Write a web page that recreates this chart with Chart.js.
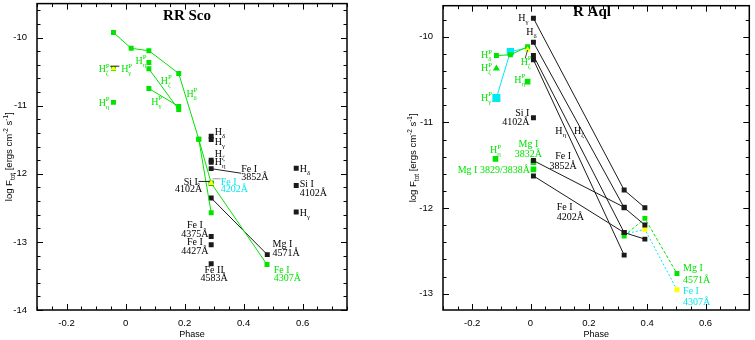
<!DOCTYPE html>
<html>
<head>
<meta charset="utf-8">
<script src="https://cdn.jsdelivr.net/npm/chart.js@4.4.0/dist/chart.umd.min.js"></script>
<style>
  body { margin: 0; background: #fff; width: 755px; height: 340px; position: relative; overflow: hidden; }
  canvas { position: absolute; top: 0; }
</style>
</head>
<body>
<canvas id="rrsco" width="380" height="340" style="left:0"></canvas>
<canvas id="raql" width="375" height="340" style="left:380px"></canvas>
<script>
// ---- axes ----
const phaseTicks = [-0.2, 0, 0.2, 0.4, 0.6];
const phaseTickLabels = ['-0.2', '0', '0.2', '0.4', '0.6'];
const rrLogTicks = [-14, -13, -12, -11, -10];
const rrLogTickLabels = ['-14', '-13', '-12', '-11', '-10'];
const aqlLogTicks = [-13, -12, -11, -10];
const aqlLogTickLabels = ['-13', '-12', '-11', '-10'];

// ---- RR Sco: [phase, log F] ----
const rrHdP = [[-0.041, -9.925], [0.019, -10.157], [0.079, -10.192], [0.18, -10.526], [0.248, -11.493], [0.29, -12.573]];
const rrFeI4307 = [[0.248, -11.493], [0.29, -12.137], [0.479, -13.332]];
const rrHzP = [[0.079, -10.458], [0.18, -11.057]];
const rrHgP = [[0.079, -10.748], [0.18, -11.01]];
const rrGreenPts = [[-0.041, -10.454], [-0.041, -10.951], [0.079, -10.366]];
const rrYellowTri = [[-0.041, -10.454], [0.29, -12.137]];
const rrMgI4571 = [[0.29, -12.355], [0.48, -13.187]];
const rrBlackPts = [[0.29, -11.448], [0.29, -11.496], [0.29, -11.80], [0.29, -11.83], [0.29, -11.924], [0.29, -12.137],
  [0.29, -12.921], [0.29, -13.041], [0.29, -13.322], [0.578, -11.919], [0.578, -12.171], [0.578, -12.562]];

// ---- R Aql ----
const aqlHg = [[0.01, -9.782], [0.321, -11.789], [0.392, -11.995]];
const aqlHd = [[0.01, -10.064], [0.321, -11.995], [0.392, -12.197]];
const aqlHz = [[0.01, -10.218], [0.321, -12.286], [0.392, -12.362]];
const aqlHe = [[0.01, -10.267], [0.321, -12.549]];
const aqlFe3852 = [[0.01, -11.445], [0.321, -11.99]];
const aqlFe4202 = [[0.01, -11.624], [0.321, -12.286]];
const aqlSiI = [[0.01, -10.944]];
const aqlHdP = [[-0.117, -10.218], [-0.069, -10.21], [-0.01, -10.115]];
const aqlHgP = [[-0.117, -10.714], [-0.069, -10.172], [-0.01, -10.13]];
const aqlGreenPts = [[-0.01, -10.523], [-0.12, -11.425], [0.01, -11.463], [0.01, -11.548]];
const aqlGreenTri = [[-0.117, -10.37]];
const aqlYellowTri = [[-0.01, -10.153]];
const aqlMgI4571 = [[0.321, -12.325], [0.392, -12.12], [0.502, -12.764]];
const aqlFeI4307 = [[0.321, -12.305], [0.392, -12.248], [0.502, -12.954]];

// ---- line identifications: [text, phase, log F, align] ----
const rrBlackLabels = [
  ['H_δ', 0.302, -11.38, 'left'], ['H_γ', 0.302, -11.52, 'left'],
  ['H_ζ', 0.302, -11.70, 'left'], ['H_η', 0.302, -11.82, 'left'],
  ['Fe I', 0.392, -11.92, 'left'], ['3852Å', 0.392, -12.04, 'left'],
  ['Si I', 0.245, -12.11, 'right'], ['4102Å', 0.26, -12.22, 'right'],
  ['Fe I', 0.235, -12.75, 'center'], ['4375Å', 0.235, -12.88, 'center'],
  ['Fe I', 0.235, -13.0, 'center'], ['4427Å', 0.235, -13.12, 'center'],
  ['Fe II', 0.30, -13.41, 'center'], ['4583Å', 0.30, -13.53, 'center'],
  ['Mg I', 0.498, -13.03, 'left'], ['4571Å', 0.498, -13.15, 'left'],
  ['H_δ', 0.59, -11.92, 'left'], ['Si I', 0.59, -12.14, 'left'], ['4102Å', 0.59, -12.27, 'left'],
  ['H_γ', 0.59, -12.57, 'left']
];
const rrGreenLabels = [
  ['H_ζ^P', -0.054, -10.46, 'right'], ['H_γ^P', -0.015, -10.46, 'left'],
  ['H_η^P', 0.071, -10.33, 'right'], ['H_ζ^P', 0.119, -10.625, 'left'],
  ['H_γ^P', 0.087, -10.937, 'left'], ['H_η^P', -0.054, -10.951, 'right'],
  ['H_δ^P', 0.206, -10.813, 'left'],
  ['Fe I', 0.502, -13.41, 'left'], ['4307Å', 0.502, -13.53, 'left']
];
const rrCyanLabels = [['Fe I', 0.322, -12.11, 'left'], ['4202Å', 0.322, -12.22, 'left']];

const aqlBlackLabels = [
  ['H_γ', -0.007, -9.771, 'right'], ['H_δ', 0.003, -9.943, 'center'],
  ['Si I', -0.004, -10.878, 'right'], ['4102Å', -0.004, -10.993, 'right'],
  ['H_η', 0.085, -11.09, 'left'], ['H_ζ', 0.149, -11.09, 'left'],
  ['Fe I', 0.112, -11.388, 'center'], ['3852Å', 0.112, -11.502, 'center'],
  ['Fe I', 0.09, -11.987, 'left'], ['4202Å', 0.09, -12.102, 'left']
];
const aqlGreenLabels = [
  ['H_δ^P', -0.132, -10.21, 'right'], ['H_ζ^P', -0.132, -10.362, 'right'], ['H_γ^P', -0.132, -10.706, 'right'],
  ['H_ζ^P', -0.015, -10.287, 'center'], ['H_η^P', -0.018, -10.497, 'right'],
  ['H_η^P', -0.12, -11.319, 'center'],
  ['Mg I', -0.007, -11.242, 'center'], ['3832Å', -0.007, -11.357, 'center'],
  ['Mg I 3829/3838Å', -0.002, -11.548, 'right'],
  ['Mg I', 0.523, -12.695, 'left'], ['4571Å', 0.523, -12.828, 'left']
];
const aqlCyanLabels = [['Fe I', 0.523, -12.962, 'left'], ['4307Å', 0.523, -13.096, 'left']];

// leader lines from a point to its label
const rrLeaders = [
  [[0.29, -11.924], [0.392, -11.992], '#222'],
  [[0.247, -12.112], [0.285, -12.112], '#222'],
  [[-0.052, -10.419], [-0.021, -10.419], '#222'],
  [[0.295, -12.073], [0.322, -12.073], '#999']
];
const aqlLeaders = [[[-0.01, -10.153], [-0.018, -10.249], '#444']];

const GREEN = '#00e400', CYAN = '#00e8f0', YELLOW = '#ffff00', INK = '#1a1a1a';
const SERIF = '"Liberation Serif", "DejaVu Serif", serif';
const SANS = '"Liberation Sans", Arial, sans-serif';

function series(data, color, extra) {
  return Object.assign({
    data, showLine: false, borderColor: color, borderWidth: 1,
    pointStyle: 'rect', pointRadius: 3.5, pointHoverRadius: 3.5,
    pointBackgroundColor: color, pointBorderWidth: 0
  }, extra || {});
}

// tiny markup: _x subscript, ^x superscript, {..} groups
function parseRich(str) {
  const parts = [];
  let i = 0;
  while (i < str.length) {
    const c = str[i];
    if (c === '_' || c === '^') {
      const kind = c === '_' ? -1 : 1;
      i++;
      let t;
      if (str[i] === '{') { const j = str.indexOf('}', i); t = str.slice(i + 1, j); i = j + 1; }
      else { t = str[i]; i++; }
      parts.push({ t, kind });
    } else {
      let j = i;
      while (j < str.length && str[j] !== '_' && str[j] !== '^') j++;
      parts.push({ t: str.slice(i, j), kind: 0 });
      i = j;
    }
  }
  return parts;
}

function drawRich(ctx, str, x, y, size, family, align, weight) {
  const sm = size * 0.68;
  const items = [];
  let cx = 0, prev = null;
  for (const p of parseRich(str)) {
    const fs = p.kind ? sm : size;
    ctx.font = `${weight || 'normal'} ${fs}px ${family}`;
    const w = ctx.measureText(p.t).width;
    let it;
    if (prev && prev.kind && p.kind && prev.kind !== p.kind) {
      it = { ...p, x: prev.x, fs };
      cx = Math.max(cx, prev.x + w);
    } else {
      it = { ...p, x: cx, fs };
      cx += w;
    }
    items.push(it);
    prev = it;
  }
  const x0 = align === 'right' ? x - cx : align === 'center' ? x - cx / 2 : x;
  const base = y + size * 0.35;
  ctx.textAlign = 'left';
  ctx.textBaseline = 'alphabetic';
  for (const it of items) {
    ctx.font = `${weight || 'normal'} ${it.fs}px ${family}`;
    const dy = it.kind === -1 ? size * 0.3 : it.kind === 1 ? -size * 0.45 : 0;
    ctx.fillText(it.t, x0 + it.x, base + dy);
  }
}

function tickMarks(ctx, scale, a, step, major, horizontal) {
  const start = Math.ceil(scale.min / step - 1e-6), end = Math.floor(scale.max / step + 1e-6);
  for (let i = start; i <= end; i++) {
    const v = i * step;
    const isMajor = Math.abs(v / major - Math.round(v / major)) < 1e-6;
    const len = isMajor ? 6 : 3.5;
    const p = Math.round(scale.getPixelForValue(v)) + 0.5;
    if (horizontal) {
      ctx.moveTo(p, a.bottom); ctx.lineTo(p, a.bottom - len);
      ctx.moveTo(p, a.top); ctx.lineTo(p, a.top + len);
    } else {
      ctx.moveTo(a.left, p); ctx.lineTo(a.left + len, p);
      ctx.moveTo(a.right, p); ctx.lineTo(a.right - len, p);
    }
  }
}

function makeDecor(cfg) {
  return {
    id: 'decor',
    afterDraw(chart) {
      const { ctx, chartArea: a } = chart;
      const xs = chart.scales.x, ys = chart.scales.y;
      const px = v => xs.getPixelForValue(v), py = v => ys.getPixelForValue(v);
      ctx.save();
      ctx.lineWidth = 1;
      for (const [p, q, col] of cfg.leaders) {
        ctx.strokeStyle = col;
        ctx.beginPath();
        ctx.moveTo(px(p[0]), py(p[1]));
        ctx.lineTo(px(q[0]), py(q[1]));
        ctx.stroke();
      }
      for (const [list, col] of cfg.labels) {
        ctx.fillStyle = col;
        for (const [t, x, y, al] of list) drawRich(ctx, t, px(x), py(y), 10, SERIF, al);
      }
      // frame + inward ticks on all four sides
      ctx.strokeStyle = '#000';
      ctx.lineWidth = 1.5;
      ctx.strokeRect(a.left, a.top, a.right - a.left, a.bottom - a.top);
      ctx.lineWidth = 1;
      ctx.beginPath();
      tickMarks(ctx, xs, a, 0.05, 0.2, true);
      tickMarks(ctx, ys, a, 0.2, 1, false);
      ctx.stroke();
      // panel title
      ctx.fillStyle = '#000';
      drawRich(ctx, cfg.title, cfg.titleX, cfg.titleY, 15, SERIF, 'center', 'bold');
      // y axis title
      ctx.translate(cfg.yTitleX, (a.top + a.bottom) / 2);
      ctx.rotate(-Math.PI / 2);
      drawRich(ctx, 'log F_{tot} [ergs cm^{-2} s^{-1}]', 0, 0, 9.5, SANS, 'center');
      ctx.restore();
    }
  };
}

// fixed box sizes; drop the label-overflow padding Chart.js adds
function fixBox(s, size) {
  if (s.isHorizontal()) s.height = size; else s.width = size;
  s.paddingTop = 0; s.paddingBottom = 0; s.paddingLeft = 0; s.paddingRight = 0;
}

function xScale() {
  return {
    type: 'linear', min: -0.3, max: 0.75,
    afterBuildTicks: s => { s.ticks = phaseTicks.map(v => ({ value: v })); },
    afterFit: s => fixBox(s, 30),
    grid: { display: false, drawTicks: false },
    border: { display: false },
    ticks: { callback: (v, i) => phaseTickLabels[i], color: '#000', font: { family: SANS, size: 9.5 }, padding: 8, maxRotation: 0, autoSkip: false },
    title: { display: true, text: 'Phase', color: '#000', font: { family: SANS, size: 9 }, padding: 0 }
  };
}

function yScale(min, max, vals, labels, width) {
  return {
    type: 'linear', min, max,
    afterBuildTicks: s => { s.ticks = vals.map(v => ({ value: v })); },
    afterFit: s => fixBox(s, width),
    grid: { display: false, drawTicks: false },
    border: { display: false },
    ticks: { callback: (v, i) => labels[i], color: '#000', font: { family: SANS, size: 9.5 }, padding: 10, autoSkip: false }
  };
}

const common = {
  responsive: false, animation: false, events: [],
  plugins: { legend: { display: false }, tooltip: { enabled: false } }
};

// RR Sco (left)
new Chart(document.getElementById('rrsco'), {
  type: 'scatter',
  data: {
    datasets: [
      series(rrYellowTri, YELLOW, { pointStyle: 'triangle', pointRadius: 3.6, pointHoverRadius: 3.6 }),
      series(rrHdP, GREEN, { showLine: true }),
      series(rrFeI4307, GREEN, { showLine: true }),
      series(rrHzP, GREEN, { showLine: true }),
      series(rrHgP, GREEN, { showLine: true }),
      series(rrGreenPts, GREEN),
      series(rrMgI4571, INK, { showLine: true }),
      series(rrBlackPts, INK)
    ]
  },
  options: Object.assign({}, common, {
    layout: { padding: { left: 0, top: 1, right: 33, bottom: 0 } },
    scales: { x: xScale(), y: yScale(-14, -9.5, rrLogTicks, rrLogTickLabels, 37) }
  }),
  plugins: [makeDecor({
    title: 'RR Sco', titleX: 187, titleY: 15, yTitleX: 9,
    labels: [[rrBlackLabels, '#000'], [rrGreenLabels, GREEN], [rrCyanLabels, CYAN]],
    leaders: rrLeaders
  })]
});

// R Aql (right)
new Chart(document.getElementById('raql'), {
  type: 'scatter',
  data: {
    datasets: [
      series(aqlYellowTri, YELLOW, { pointStyle: 'triangle', pointRadius: 3.6, pointHoverRadius: 3.6 }),
      series(aqlGreenTri, GREEN, { pointStyle: 'triangle', pointRadius: 4, pointHoverRadius: 4 }),
      series(aqlHg, INK, { showLine: true }),
      series(aqlHd, INK, { showLine: true }),
      series(aqlHz, INK, { showLine: true }),
      series(aqlHe, INK, { showLine: true }),
      series(aqlFe3852, INK, { showLine: true }),
      series(aqlFe4202, INK, { showLine: true }),
      series(aqlSiI, INK),
      series(aqlGreenPts, GREEN, { pointRadius: 4, pointHoverRadius: 4 }),
      series(aqlHdP, GREEN, { showLine: true }),
      series(aqlHgP, CYAN, { showLine: true, pointRadius: [5.7, 5.2, 0], pointHoverRadius: 5.7 }),
      series(aqlMgI4571, GREEN, { showLine: true, borderDash: [3, 2] }),
      series(aqlFeI4307, CYAN, { showLine: true, borderDash: [2, 2], pointBackgroundColor: YELLOW })
    ]
  },
  options: Object.assign({}, common, {
    layout: { padding: { left: 0, top: 1, right: 1, bottom: 0 } },
    scales: { x: xScale(), y: yScale(-13.19, -9.636, aqlLogTicks, aqlLogTickLabels, 63) }
  }),
  plugins: [makeDecor({
    title: 'R Aql', titleX: 212, titleY: 11, yTitleX: 33,
    labels: [[aqlBlackLabels, '#000'], [aqlGreenLabels, GREEN], [aqlCyanLabels, CYAN]],
    leaders: aqlLeaders
  })]
});
</script>
</body>
</html>
